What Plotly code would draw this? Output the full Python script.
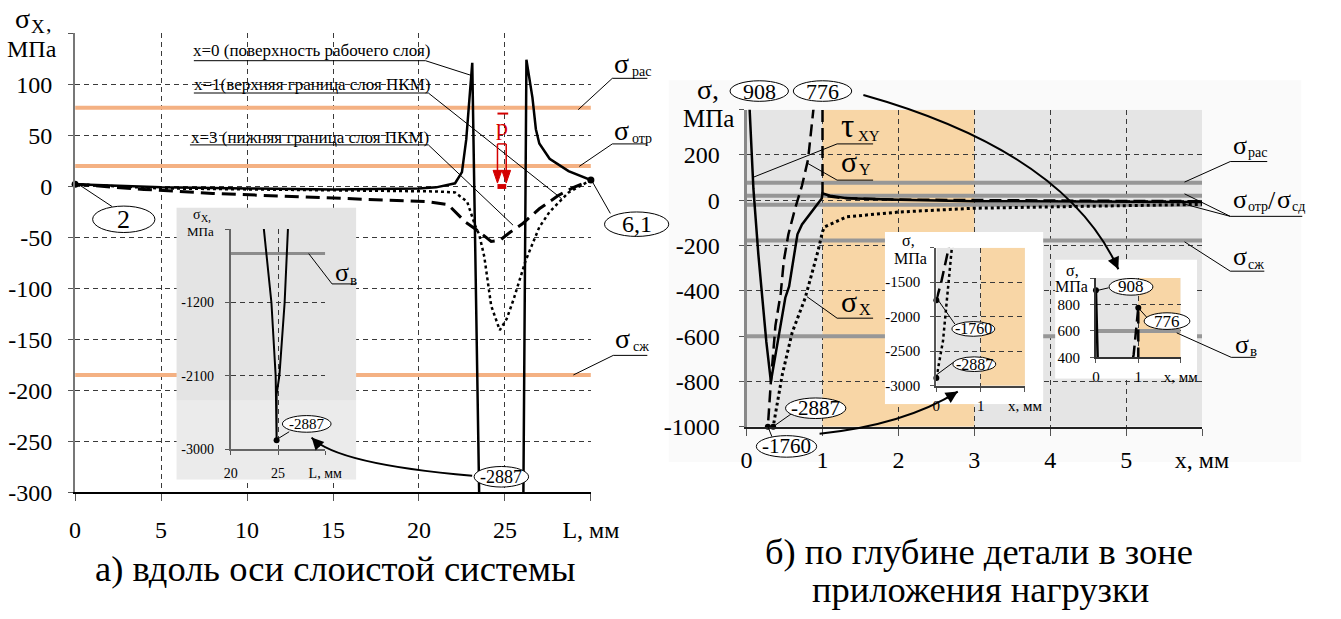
import plotly.graph_objects as go

W, H = 1341, 619
SERIF = "Liberation Serif, Times New Roman, Times, serif"

# ---------------- а) sigma_x along the layered system ----------------
# L, mm  ->  sigma_x, MPa for three depths
L_surface = [0, 2, 5, 10, 15, 20, 21, 22.1, 22.5, 22.75, 22.9, 23.1, 23.5, 24.3, 24.75, 24.85,
             24.85, 25.15, 25.7, 26.05, 26.25, 26.6, 26.8, 27.0, 27.6, 28.7, 30]
sx_surface = [2, 1, -1, -2, -3, -2, -1, 3, 14, 46, 78, 121, -300, -1200, -2100, -2887,
              -2330, -2090, -1200, -300, 124, 87, 56, 42, 27, 15, 6.1]

L_upper = [0, 4, 8, 15, 19, 20.5, 21.7, 22.7, 23.3, 24.2, 24.7, 25.3, 26.0, 27.0, 28.1, 29.0, 30]
sx_upper = [2, -3, -7, -11.5, -13.5, -15, -18, -35, -42, -54, -53, -45, -37, -22, -9, -1, 6.1]

L_lower = [0, 5, 10, 15, 20, 21, 22.1, 22.8, 23.3, 23.5, 23.8, 24.2, 24.7, 25.1, 25.5, 26.2,
           27.0, 27.6, 28.7, 30]
sx_lower = [2, -2, -3, -4, -5, -5, -6, -15, -40, -47, -69, -117, -141, -130, -111, -73,
            -40, -25, -6, 6.1]

# strength limits, MPa (tension, peel, compression)
limits_a = [77, 20, -185]
sigma_v = 600

ticks_L = [0, 5, 10, 15, 20, 25, 30]
ticks_L_text = ["0", "5", "10", "15", "20", "25", "L, мм"]
ticks_sa = [-300, -250, -200, -150, -100, -50, 0, 50, 100, 150]
ticks_sa_text = ["-300", "-250", "-200", "-150", "-100", "-50", "0", "50", "100", ""]
ticks_L_zoom = [20, 25, 30]
ticks_L_zoom_text = ["20", "25", "L, мм"]
ticks_sa_zoom = [-3000, -2100, -1200, -300]
ticks_sa_zoom_text = ["-3000", "-2100", "-1200", ""]

# ---------------- б) stresses through the depth under the load ----------------
depth_tau = [0, 0.04, 0.09, 0.155, 0.26, 0.32, 0.41, 0.51, 0.56, 0.67, 0.73, 0.86, 0.99, 1.0,
             1.1, 1.32, 2.0, 3.0, 4.0, 5.0, 6.0]
tau_xy = [908, 400, 50, -240, -625, -800, -625, -430, -380, -150, -107, -52, 8, 30,
          20, 9, 2, -4, -6, -7, -8]

depth_sy = [0, 0.11, 0.28, 0.32, 0.38, 0.45, 0.49, 0.55, 0.64, 0.73, 0.81, 0.87, 0.89, 1.0,
            1.0, 1.05, 1.2, 1.5, 2, 3, 4, 5, 6]
sigma_y = [-1760, -1500, -1000, -800, -553, -410, -268, -151, -35, 65, 181, 387, 420, 776,
           25, 18, 12, 7, 3, 0, -2, -3, -4]

depth_sx = [0, 0.15, 0.35, 0.47, 0.60, 0.77, 0.87, 0.94, 1.0, 1.03, 1.32, 2.0, 3.0, 4.0, 5.0, 6.0]
sigma_x = [-2887, -2350, -1000, -770, -584, -433, -311, -225, -138, -117, -73, -52, -35, -30,
           -26, -18]

# tension, peel, shear, compression, strength
limits_b = [77, 20, -20, -178, -600]

ticks_x = [0, 1, 2, 3, 4, 5, 6]
ticks_x_text = ["0", "1", "2", "3", "4", "5", "x, мм"]
ticks_sb = [-1000, -800, -600, -400, -200, 0, 200, 400]
ticks_sb_text = ["-1000", "-800", "-600", "-400", "-200", "0", "200", ""]
ticks_x_zoom = [0, 1, 2]
ticks_x_zoom_text = ["0", "1", "x, мм"]
ticks_sb_low = [-3000, -2500, -2000, -1500, -1000]
ticks_sb_low_text = ["-3000", "-2500", "-2000", "-1500", ""]
ticks_sb_high = [400, 600, 800, 1000]
ticks_sb_high_text = ["400", "600", "800", ""]

ORANGE_LINE = "#f4b183"
LIMIT_GRAY = "#979797"
BG_GRAY = "#e5e5e5"
BG_ORANGE = "#f8d6a6"
GRID = "#3a3a3a"


def px(x):
    return x / W


def py(y):
    return 1 - y / H


def dom_x(a, b):
    return [px(a), px(b)]


def dom_y(top, bottom):
    return [py(bottom), py(top)]


fig = go.Figure()


def line(x, y, sub, color="black", width=2.5, dash="solid"):
    fig.add_trace(go.Scatter(x=x, y=y, mode="lines", xaxis="x" + sub, yaxis="y" + sub,
                             line=dict(color=color, width=width, dash=dash),
                             hoverinfo="skip", showlegend=False))


def dots(x, y, sub, size=7):
    fig.add_trace(go.Scatter(x=x, y=y, mode="markers", xaxis="x" + sub, yaxis="y" + sub,
                             marker=dict(color="black", size=size), cliponaxis=False,
                             hoverinfo="skip", showlegend=False))


def panel(sub, color, y0=0, y1=1):
    fig.add_trace(go.Scatter(x=[0, 1, 1, 0, 0], y=[y0, y0, y1, y1, y0], mode="lines",
                             fill="toself", fillcolor=color, line=dict(width=0),
                             xaxis="x" + sub, yaxis="y" + sub, hoverinfo="skip",
                             showlegend=False))


DASH_A = "14px,7px"
DASH_B = "12px,6px"
DOT = "3px,3px"

# --- subplot 1: main chart а)
for v in limits_a:
    line([ticks_L[0], ticks_L[-1]], [v, v], "", color=ORANGE_LINE, width=4)
line(L_lower, sx_lower, "", width=2.5, dash=DOT)
line(L_upper, sx_upper, "", width=3, dash=DASH_A)
line(L_surface, sx_surface, "", width=2.5)
dots([L_surface[0], L_surface[-1]], [sx_surface[0], sx_surface[-1]], "")

# --- subplot 2: backing panel of the zoomed view
panel("2", "#ebebeb", 0, 0.29)
panel("2", "#e4e4e4", 0.29, 1)

# --- subplot 3: zoomed view of the surface curve
line([ticks_L_zoom[0], ticks_L_zoom[-1]], [-sigma_v, -sigma_v], "3", color="#8c8c8c", width=3)
line(L_surface, sx_surface, "3", width=2)
i_min = sx_surface.index(min(sx_surface))
dots([L_surface[i_min]], [sx_surface[i_min]], "3", size=6)

# --- subplot 4: main chart б)
for v in limits_b:
    line([ticks_x[0], ticks_x[-1]], [v, v], "4", color=LIMIT_GRAY, width=4)
line(depth_sx, sigma_x, "4", width=3, dash=DOT)
line(depth_sy, sigma_y, "4", width=2.5, dash=DASH_B)
line(depth_tau, tau_xy, "4", width=2.5)
i_y = sigma_y.index(-1000)
i_x = sigma_x.index(-1000)
dots([depth_sy[i_y], depth_sx[i_x]], [sigma_y[i_y], sigma_x[i_x]], "4", size=6)

# --- subplot 5/6: lower zoom of б)
panel("5", "white")
line(depth_sx, sigma_x, "6", width=2.5, dash=DOT)
line(depth_sy, sigma_y, "6", width=2.5, dash=DASH_B)
dots([depth_sy[0], depth_sx[0]], [sigma_y[0], sigma_x[0]], "6", size=6)

# --- subplot 7/8: upper zoom of б)
panel("7", "white")
line([0, 2], [sigma_v, sigma_v], "8", color=LIMIT_GRAY, width=4)
line(depth_sy, sigma_y, "8", width=2.5, dash=DASH_B)
line(depth_tau, tau_xy, "8", width=2.5)
i_top = sigma_y.index(max(sigma_y))
dots([depth_tau[0], depth_sy[i_top]], [tau_xy[0], sigma_y[i_top]], "8", size=6)


def axis(domain, rng, anchor, tickvals=None, ticktext=None, size=24, linecolor="black",
         linewidth=2, ticklen=5, standoff=4, visible=True):
    if not visible:
        return dict(domain=domain, range=rng, anchor=anchor, visible=False, fixedrange=True)
    return dict(domain=domain, range=rng, anchor=anchor, tickmode="array", tickvals=tickvals,
                ticktext=ticktext, tickfont=dict(family=SERIF, size=size, color="black"),
                showgrid=True, gridcolor=GRID, gridwidth=1, griddash="5px,4px",
                zeroline=False, showline=True, linecolor=linecolor, linewidth=linewidth,
                ticks="outside", ticklen=ticklen, tickcolor="#555", tickwidth=1,
                ticklabelstandoff=standoff, fixedrange=True)


layout_axes = dict(
    xaxis=axis(dom_x(70, 600), [0, 30], "y", ticks_L, ticks_L_text, 24, "black", 2, 7, 8),
    yaxis=axis(dom_y(34, 503), [-300, 150], "x", ticks_sa, ticks_sa_text, 24, "#777", 2, 5, 11),
    xaxis2=axis(dom_x(174, 359), [0, 1], "y2", visible=False),
    yaxis2=axis(dom_y(212, 490), [0, 1], "x2", visible=False),
    xaxis3=axis(dom_x(230, 327), [20, 30], "y3", ticks_L_zoom, ticks_L_zoom_text, 14, "#666", 2, 4, 6),
    yaxis3=axis(dom_y(234, 459), [-3000, -300], "x3", ticks_sa_zoom, ticks_sa_zoom_text, 14, "#666", 2, 4, 8),
    xaxis4=axis(dom_x(760, 1228), [0, 6], "y4", ticks_x, ticks_x_text, 24, "#222", 2, 7, 3),
    yaxis4=axis(dom_y(112, 436), [-1000, 400], "x4", ticks_sb, ticks_sb_text, 24, "#888", 3, 5, 14),
    xaxis5=axis(dom_x(902, 1065), [0, 1], "y5", visible=False),
    yaxis5=axis(dom_y(237, 413), [0, 1], "x5", visible=False),
    xaxis6=axis(dom_x(955, 1046), [0, 2], "y6", ticks_x_zoom, ticks_x_zoom_text, 15, "#444", 2, 4, 1),
    yaxis6=axis(dom_y(253, 394), [-3000, -1000], "x6", ticks_sb_low, ticks_sb_low_text, 15, "#555", 2, 4, 7),
    xaxis7=axis(dom_x(1077, 1223), [0, 1], "y7", visible=False),
    yaxis7=axis(dom_y(265, 387), [0, 1], "x7", visible=False),
    xaxis8=axis(dom_x(1119, 1206), [0, 2], "y8", ticks_x_zoom, ticks_x_zoom_text, 15, "#333", 2, 4, 1),
    yaxis8=axis(dom_y(284, 365), [400, 1000], "x8", ticks_sb_high, ticks_sb_high_text, 15, "#333", 2, 4, 7),
)

shapes = []
annots = []

# shaded backgrounds of chart б) and its zoomed views
for xr, yr, (xa, xb), (ya, yb) in [("x4", "y4", (0, 6), (-1000, 400)),
                                   ("x6", "y6", (0, 2), (-3000, -1000)),
                                   ("x8", "y8", (0, 2), (400, 1000))]:
    shapes.append(dict(type="rect", xref=xr, yref=yr, x0=xa, x1=xb, y0=ya, y1=yb,
                       fillcolor=BG_GRAY, line=dict(width=0), layer="below"))
    shapes.append(dict(type="rect", xref=xr, yref=yr, x0=1, x1=min(3, xb), y0=ya, y1=yb,
                       fillcolor=BG_ORANGE, line=dict(width=0), layer="below"))

# faint sheet behind chart б)
shapes.append(dict(type="rect", xref="paper", yref="paper", x0=px(680), x1=px(1330),
                   y0=py(472), y1=py(82), fillcolor="#fafafa", line=dict(width=0), layer="below"))


def seg(x0, y0, x1, y1, color="black", width=1):
    shapes.append(dict(type="line", xref="paper", yref="paper", x0=px(x0), y0=py(y0),
                       x1=px(x1), y1=py(y1), line=dict(color=color, width=width), layer="above"))


def text(x, y, s, size, color="black", xanchor="center"):
    annots.append(dict(x=px(x), y=py(y), xref="paper", yref="paper", text=s, showarrow=False,
                       font=dict(family=SERIF, size=size, color=color), xanchor=xanchor,
                       yanchor="middle"))


def sym(x0, yg, main, sub, size, subsize=14, dx=None):
    """Greek symbol with a lowered index; yg is the centre of the symbol's glyph."""
    dx = 0.58 * size if dx is None else dx
    text(x0, yg - 0.1 * size, main, size, xanchor="left")
    text(x0 + dx, yg + 0.24 * size - 0.1 * subsize, sub, subsize, xanchor="left")


def oval(cx, cy, w, h, label, size):
    shapes.append(dict(type="circle", xref="paper", yref="paper", x0=px(cx - w / 2),
                       x1=px(cx + w / 2), y0=py(cy + h / 2), y1=py(cy - h / 2),
                       line=dict(color="black", width=1), fillcolor="white", layer="above"))
    text(cx, cy, label, size)


def leader(ux0, ux1, uy, tx, ty, extra=()):
    seg(ux0, uy, ux1, uy)
    seg(ux0 if tx < ux0 else ux1, uy, tx, ty)
    for ex, ey in extra:
        seg(ux0, uy, ex, ey)


def curve(x0, y0, cx, cy, x1, y1):
    shapes.append(dict(type="path", xref="paper", yref="paper",
                       path=f"M {px(x0)},{py(y0)} Q {px(cx)},{py(cy)} {px(x1)},{py(y1)}",
                       line=dict(color="black", width=2), layer="above"))
    dx, dy = x1 - cx, y1 - cy
    n = (dx * dx + dy * dy) ** 0.5
    annots.append(dict(x=px(x1), y=py(y1), xref="paper", yref="paper", text="",
                       showarrow=True, ax=-dx / n * 14, ay=-dy / n * 14, arrowhead=2,
                       arrowsize=1.2, arrowwidth=2, arrowcolor="black", standoff=0))


# ---- chart а) labels
sym(6, 22, "σ", "X", 28, 19, dx=17)
text(38, 24, ",", 22, xanchor="left")
text(26, 50, "МПа", 24)
text(313, 52, "x=0 (поверхность рабочего слоя)", 17)
leader(192, 430, 62, 477, 77)
text(313, 86, "x=1(верхняя граница слоя ПКМ)", 17)
leader(192, 433, 95, 570, 203)
text(311, 140, "x=3 (нижняя граница слоя ПКМ)", 17)
leader(188, 433, 148, 520, 230)
sym(622, 68, "σ", "рас", 28, 14, dx=18)
leader(622, 658, 80, 587, 112)
sym(622, 136, "σ", "отр", 28, 14, dx=18)
leader(622, 658, 147, 588, 170)
sym(623, 349, "σ", "сж", 28, 14, dx=18)
leader(623, 658, 363, 582, 383)
seg(70, 186, 108, 211)
oval(120, 224, 64, 27, "2", 26)
seg(600, 183, 620, 218)
oval(647, 229, 66, 25, "6,1", 24)
oval(508, 487, 56, 21, "-2887", 18)
curve(478, 486, 339, 474, 313, 447)

# zoomed view of а)
sym(189, 221, "σ", "X", 14, 10, dx=8)
text(205, 222, ",", 12, xanchor="left")
text(199, 236, "МПа", 13)
seg(277, 449, 290, 441)
oval(308, 433, 50, 17, "-2887", 15)
sym(335, 281, "σ", "в", 26, 15, dx=15)
leader(334, 359, 290, 310, 259)

# applied load
RED = "#d40000"
text(509, 130, "p", 24, color=RED)
seg(504, 116, 515, 116, color=RED, width=2)
seg(504, 147, 513, 147, color=RED, width=1.5)
seg(504, 147, 504, 178, color=RED, width=1.5)
seg(513, 147, 513, 178, color=RED, width=1.5)
for tip in (504, 513):
    shapes.append(dict(type="path", xref="paper", yref="paper",
                       path=f"M {px(tip - 4.5)},{py(174)} L {px(tip + 4.5)},{py(174)} "
                            f"L {px(tip)},{py(187)} Z",
                       fillcolor=RED, line=dict(color=RED, width=1), layer="above"))
shapes.append(dict(type="rect", xref="paper", yref="paper", x0=px(504), x1=px(513),
                   y0=py(193), y1=py(188), fillcolor=RED, line=dict(width=0), layer="above"))

text(338, 581, "а) вдоль оси слоистой системы", 36.5)

# ---- chart б) labels
text(720, 91, "σ,", 28)
text(721, 121, "МПа", 25)
oval(773, 93, 60, 21, "908", 22)
oval(838, 93, 60, 21, "776", 22)
curve(880, 97, 1088, 155, 1142, 275)
sym(855, 132, "τ", "XY", 33, 15, dx=17)
leader(853, 890, 147, 767, 181)
sym(855, 168, "σ", "Y", 30, 16, dx=18)
leader(853, 890, 184, 823, 167)
sym(855, 311, "σ", "X", 30, 16, dx=18)
leader(853, 890, 325, 822, 303)
sym(1258, 151, "σ", "рас", 26, 14, dx=15)
leader(1257, 1295, 165, 1210, 186)
sym(1258, 206, "σ", "отр", 26, 14, dx=15)
text(1294, 205, "/", 26, xanchor="left")
sym(1303, 206, "σ", "сд", 26, 14, dx=15)
leader(1257, 1331, 221, 1210, 198, extra=[(1208, 208)])
sym(1258, 265, "σ", "сж", 26, 14, dx=15)
leader(1257, 1292, 277, 1210, 247)
seg(787, 436, 807, 422)
oval(831, 417, 62, 21, "-2887", 21)
seg(782, 436, 786, 446)
oval(801, 456, 62, 22, "-1760", 21)
curve(835, 443, 922, 434, 977, 400)

# lower zoom of б)
text(926, 246, "σ,", 16)
text(928, 264, "МПа", 16)
seg(955, 304, 974, 331)
oval(993, 336, 44, 15, "-1760", 16)
seg(955, 383, 974, 369)
oval(994, 372, 44, 15, "-2887", 16)

# upper zoom of б)
text(1095, 276, "σ,", 16)
text(1094, 293, "МПа", 16)
seg(1119, 297, 1132, 294)
oval(1155, 293, 45, 17, "908", 17)
seg(1163, 315, 1172, 325)
oval(1192, 328, 47, 17, "776", 17)
sym(1260, 354, "σ", "в", 26, 15, dx=15)
leader(1258, 1283, 365, 1202, 340)

text(999, 563, "б) по глубине детали в зоне", 36.5)
text(1000, 602, "приложения нагрузки", 36.5)

fig.update_layout(width=W, height=H, autosize=False, margin=dict(l=0, r=0, t=0, b=0),
                  paper_bgcolor="white", plot_bgcolor="rgba(0,0,0,0)", showlegend=False,
                  font=dict(family=SERIF, color="black"), shapes=shapes, annotations=annots,
                  **layout_axes)

fig.write_html("out.html", config={"displayModeBar": False, "staticPlot": True})
